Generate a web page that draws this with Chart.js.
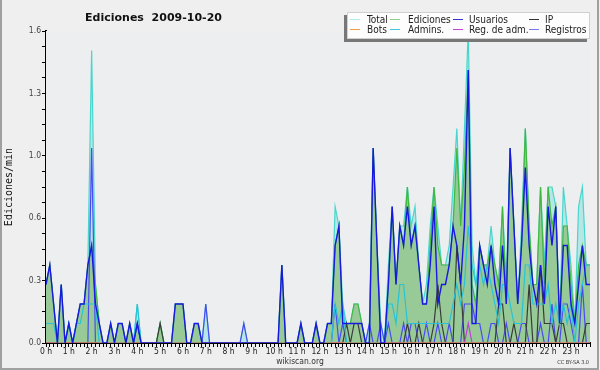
<!DOCTYPE html>
<html>
<head>
<meta charset="utf-8">
<title>Ediciones 2009-10-20</title>
<script src="https://cdn.jsdelivr.net/npm/chart.js@4.4.1/dist/chart.umd.min.js"></script>
<style>
    html, body { margin: 0; padding: 0; background: #efeff0; }
    #wrap { width: 600px; height: 370px; }
</style>
</head>
<body>
<div id="wrap"><canvas id="chart" width="600" height="370"></canvas></div>
<script>
// 10-minute slots over the day (0 = 00:00, 143 = 23:50)
const slots = Array.from({ length: 144 }, (_, i) => i);
const hourLabels = ['0 h', '1 h', '2 h', '3 h', '4 h', '5 h', '6 h', '7 h', '8 h', '9 h', '10 h', '11 h',
    '12 h', '13 h', '14 h', '15 h', '16 h', '17 h', '18 h', '19 h', '20 h', '21 h', '22 h', '23 h'];
const yTickLabels = ['0.0', '0.3', '0.6', '1.0', '1.3', '1.6'];

// edits per minute, one value per slot (12 values = 2 hours per row)
const total = [
    .3, .4, .2, 0, .3, 0, .1, 0, .1, .2, .2, .4,
    1.5, .3, .1, 0, 0, .1, 0, .1, .1, 0, .1, 0,
    .2, 0, 0, 0, 0, 0, .1, 0, 0, 0, .2, .2,
    .2, 0, 0, .1, .1, 0, .2, 0, 0, 0, 0, 0,
    0, 0, 0, 0, .1, 0, 0, 0, 0, 0, 0, 0,
    0, 0, .4, 0, 0, 0, 0, .1, 0, 0, 0, .1,
    0, 0, .1, .1, .7, .6, .2, .1, .1, .2, .2, .1,
    0, .1, 1.0, .5, .1, 0, .4, .7, .3, .6, .6, .8,
    .6, .7, .4, .2, .3, .6, .8, .6, .4, .4, .5, .8,
    1.1, .6, 1.1, 1.6, .5, .3, .5, .4, .4, .6, .4, .3,
    .7, .3, 1.0, .6, .2, .6, 1.1, .6, .3, .3, .8, .4,
    .8, .8, .7, .1, .8, .6, .4, .1, .7, .8, .4, .4
];
const ediciones = [
    .3, .4, .2, 0, .3, 0, .1, 0, .1, .2, .2, .4,
    .5, .3, .1, 0, 0, .1, 0, .1, .1, 0, .1, 0,
    .1, 0, 0, 0, 0, 0, .1, 0, 0, 0, .2, .2,
    .2, 0, 0, .1, .1, 0, 0, 0, 0, 0, 0, 0,
    0, 0, 0, 0, 0, 0, 0, 0, 0, 0, 0, 0,
    0, 0, .4, 0, 0, 0, 0, .1, 0, 0, 0, .1,
    0, 0, .1, .1, .5, .6, .1, .1, .1, .2, .2, .1,
    0, 0, 1.0, .5, 0, 0, .3, .7, .3, .6, .5, .8,
    .5, .6, .4, .2, .2, .5, .8, .5, .4, .4, .4, .6,
    1.0, .6, .9, 1.4, .3, .2, .5, .4, .4, .5, .4, .3,
    .7, .2, 1.0, .6, .2, .5, 1.1, .6, .3, .3, .8, .3,
    .8, .6, .7, .1, .6, .6, .3, .1, .4, .5, .4, .4
];
const usuarios = [
    .3, .4, .2, 0, .3, 0, .1, 0, .1, .2, .2, .4,
    .5, .2, .1, 0, 0, .1, 0, .1, .1, 0, .1, 0,
    .1, 0, 0, 0, 0, 0, 0, 0, 0, 0, .2, .2,
    .2, 0, 0, .1, .1, 0, 0, 0, 0, 0, 0, 0,
    0, 0, 0, 0, 0, 0, 0, 0, 0, 0, 0, 0,
    0, 0, .4, 0, 0, 0, 0, .1, 0, 0, 0, .1,
    0, 0, .1, .1, .5, .6, .1, .1, .1, .1, .1, .1,
    0, 0, 1.0, .5, 0, 0, .3, .7, .3, .6, .5, .7,
    .5, .6, .4, .2, .2, .4, .7, .2, .3, .3, .4, .6,
    .5, .3, .6, 1.4, .1, .1, .5, .4, .3, .5, .3, .2,
    .5, .2, 1.0, .6, .2, .5, .9, .5, .3, .2, .4, .2,
    .7, .5, .7, .1, .5, .5, .2, .1, .3, .5, .3, .3
];
const ip = [
    0, 0, 0, 0, 0, 0, 0, 0, 0, 0, 0, 0,
    0, 0, 0, 0, 0, 0, 0, 0, 0, 0, 0, 0,
    0, 0, 0, 0, 0, 0, .1, 0, 0, 0, 0, 0,
    0, 0, 0, 0, 0, 0, 0, 0, 0, 0, 0, 0,
    0, 0, 0, 0, 0, 0, 0, 0, 0, 0, 0, 0,
    0, 0, 0, 0, 0, 0, 0, 0, 0, 0, 0, 0,
    0, 0, 0, 0, 0, 0, 0, .1, 0, .1, .1, 0,
    0, 0, 0, 0, 0, 0, 0, 0, 0, 0, 0, .1,
    0, 0, .1, 0, 0, 0, .1, .3, .1, 0, 0, 0,
    .5, .3, 0, 0, 0, 0, 0, 0, 0, 0, 0, .2,
    .2, 0, 0, .1, 0, 0, 0, .3, 0, 0, .4, .1,
    .1, .1, 0, .1, .1, 0, 0, 0, 0, 0, .1, .1
];
const bots = slots.map(() => 0);
const admins = [
    .1, .1, .1, 0, 0, 0, .1, 0, .1, .1, .2, .2,
    .2, .2, 0, 0, 0, 0, 0, 0, 0, 0, 0, 0,
    .2, 0, 0, 0, 0, 0, 0, 0, 0, 0, 0, 0,
    0, 0, 0, 0, 0, 0, 0, 0, 0, 0, 0, 0,
    0, 0, 0, 0, 0, 0, 0, 0, 0, 0, 0, 0,
    0, 0, 0, 0, 0, 0, 0, 0, 0, 0, 0, 0,
    0, 0, 0, 0, .2, .1, .2, 0, 0, 0, 0, 0,
    0, 0, 0, 0, 0, 0, .2, .2, .1, .3, .3, .1,
    .1, .1, .1, .1, .1, .1, .1, .1, .1, .1, .1, .2,
    .3, .2, .3, .6, .4, .3, .4, .3, .4, .3, .2, .1,
    .3, .3, .2, .1, .1, .1, .4, .4, .2, .2, .2, .2,
    .3, .1, .2, .1, .2, .1, .2, 0, .2, .3, .4, .4
];
const regAdm = [
    0, 0, 0, 0, 0, 0, 0, 0, 0, 0, 0, 0,
    0, 0, 0, 0, 0, 0, 0, 0, 0, 0, 0, 0,
    0, 0, 0, 0, 0, 0, 0, 0, 0, 0, 0, 0,
    0, 0, 0, 0, 0, 0, 0, 0, 0, 0, 0, 0,
    0, 0, 0, 0, 0, 0, 0, 0, 0, 0, 0, 0,
    0, 0, 0, 0, 0, 0, 0, 0, 0, 0, 0, 0,
    0, 0, 0, 0, 0, 0, 0, 0, 0, 0, 0, 0,
    0, 0, 0, 0, 0, 0, 0, 0, 0, 0, 0, 0,
    0, 0, 0, 0, 0, 0, 0, 0, 0, 0, 0, 0,
    0, 0, 0, .1, 0, 0, 0, 0, 0, 0, 0, 0,
    0, 0, 0, 0, 0, 0, 0, 0, 0, 0, 0, 0,
    0, 0, 0, 0, 0, 0, 0, 0, 0, 0, 0, 0
];
const registros = [
    0, 0, 0, 0, 0, 0, 0, 0, 0, 0, 0, 0,
    1.0, 0, 0, 0, 0, 0, 0, 0, 0, 0, 0, 0,
    .1, 0, 0, 0, 0, 0, 0, 0, 0, 0, 0, 0,
    0, 0, 0, 0, 0, 0, .2, 0, 0, 0, 0, 0,
    0, 0, 0, 0, .1, 0, 0, 0, 0, 0, 0, 0,
    0, 0, 0, 0, 0, 0, 0, 0, 0, 0, 0, 0,
    0, 0, 0, 0, .2, 0, .1, 0, 0, 0, 0, 0,
    0, .1, 0, 0, .1, 0, .1, 0, 0, 0, .1, 0,
    .1, .1, 0, 0, .1, 0, 0, .1, 0, 0, .1, 0,
    0, 0, .2, .2, .2, .1, .1, 0, 0, .1, .1, 0,
    0, .1, 0, 0, 0, .1, .1, 0, 0, 0, .1, 0,
    0, .2, 0, 0, .2, .2, .1, 0, 0, .3, 0, 0
];

// legend entries, in the order of the original box (2 rows x 4 columns)
const legendNames = ['Total', 'Ediciones', 'Usuarios', 'IP', 'Bots', 'Admins.', 'Reg. de adm.', 'Registros'];
const legendColors = ['#b2eaea', '#8fd08f', '#3434d0', '#333333', '#f0a040', '#40c8d8', '#c844d8', '#7a7aee'];

const SANS = "'DejaVu Sans Condensed', 'DejaVu Sans', sans-serif";

function lineSet(label, data, color, width, order) {
    return {
        label, data, order,
        borderColor: color,
        borderWidth: width,
        pointRadius: 0,
        tension: 0,
        fill: false
    };
}

// plot background, frame, title, legend box and footer
const decorations = {
    id: 'decorations',
    beforeDatasetsDraw(chart) {
        const { ctx, chartArea: a } = chart;
        ctx.save();
        ctx.fillStyle = '#edeef0';
        ctx.fillRect(a.left, a.top, a.right - a.left, a.bottom - a.top);
        ctx.restore();
    },
    afterDraw(chart) {
        const { ctx } = chart;
        ctx.save();

        // outer frame
        ctx.strokeStyle = '#a0a0a0';
        ctx.lineWidth = 2;
        ctx.beginPath();
        ctx.moveTo(1, 0); ctx.lineTo(1, 369);
        ctx.lineTo(598, 369); ctx.lineTo(598, 0);
        ctx.stroke();

        // title
        ctx.fillStyle = '#111';
        ctx.font = "bold 11px 'DejaVu Sans', sans-serif";
        ctx.textAlign = 'center';
        ctx.textBaseline = 'alphabetic';
        ctx.fillText('Ediciones  2009-10-20', 153.5, 21);

        // legend box with shadow
        ctx.fillStyle = '#787878';
        ctx.fillRect(344, 15, 243, 27);
        ctx.fillStyle = '#fdfdfd';
        ctx.fillRect(347, 12, 243, 27);
        ctx.strokeStyle = '#d0d0d0';
        ctx.lineWidth = 1;
        ctx.strokeRect(347.5, 12.5, 242, 26);

        const sampleX = [350, 390, 453, 529];
        const textX = [367, 408, 469, 545];
        const rowY = [19.5, 29.5];
        ctx.font = '10px ' + SANS;
        ctx.textAlign = 'left';
        ctx.textBaseline = 'middle';
        legendNames.forEach((name, i) => {
            const col = i % 4, row = Math.floor(i / 4);
            ctx.strokeStyle = legendColors[i];
            ctx.lineWidth = 1;
            ctx.beginPath();
            ctx.moveTo(sampleX[col], rowY[row]);
            ctx.lineTo(sampleX[col] + 10, rowY[row]);
            ctx.stroke();
            ctx.fillStyle = '#222';
            ctx.fillText(name, textX[col], rowY[row] + 0.5);
        });

        // footer
        ctx.fillStyle = '#333';
        ctx.font = '8.5px ' + SANS;
        ctx.textAlign = 'center';
        ctx.textBaseline = 'alphabetic';
        ctx.fillText('wikiscan.org', 300, 364);
        ctx.font = '5.5px ' + SANS;
        ctx.textAlign = 'right';
        ctx.fillText('CC BY-SA 3.0', 589, 364);

        ctx.restore();
    }
};

function initChart() {
    const ctx = document.getElementById('chart').getContext('2d');

    const totalSet = lineSet('Total', total, '#48d6cc', 1.2, 10);
    totalSet.fill = 'origin';
    totalSet.backgroundColor = 'rgba(168, 228, 226, 0.8)';

    const edSet = lineSet('Ediciones', ediciones, '#3fb83f', 1.2, 9);
    edSet.fill = 'origin';
    edSet.backgroundColor = '#97ca97';

    new Chart(ctx, {
        type: 'line',
        data: {
            labels: slots,
            datasets: [
                totalSet,
                edSet,
                lineSet('Registros', registros, '#4a4af2', 1.2, 7),
                lineSet('IP', ip, '#3a3a3a', 1.2, 6),
                lineSet('Reg. de adm.', regAdm, '#c040d8', 1.2, 5),
                lineSet('Admins.', admins, '#26c4d6', 1.2, 4),
                lineSet('Bots', bots, '#f0a030', 1.2, 3),
                lineSet('Usuarios', usuarios, '#1818e0', 1.4, 1)
            ]
        },
        options: {
            responsive: false,
            animation: false,
            devicePixelRatio: 1,
            events: [],
            layout: { padding: { top: 31, right: 10, left: 0, bottom: 0 } },
            scales: {
                x: {
                    type: 'linear',
                    min: 0,
                    max: 143,
                    z: 1,
                    afterFit: s => { s.height = 27; },
                    afterBuildTicks: s => { s.ticks = slots.map(v => ({ value: v })); },
                    ticks: {
                        autoSkip: false,
                        maxRotation: 0,
                        padding: 0,
                        color: '#222',
                        font: { family: SANS, size: 8.5 },
                        callback: v => (v % 6 === 0 ? hourLabels[v / 6] : '')
                    },
                    grid: { drawOnChartArea: false, tickLength: 4, tickColor: '#000', lineWidth: 1 },
                    border: { display: true, color: '#000', width: 2 }
                },
                y: {
                    min: 0,
                    max: 1.6,
                    afterFit: s => { s.width = 46; },
                    afterBuildTicks: s => {
                        s.ticks = Array.from({ length: 21 }, (_, k) => ({ value: k * 0.08 }));
                    },
                    ticks: {
                        autoSkip: false,
                        padding: 1,
                        color: '#444',
                        font: { family: SANS, size: 8.5 },
                        callback: (v, i) => (i % 4 === 0 ? yTickLabels[i / 4] : '')
                    },
                    grid: {
                        tickLength: 4,
                        tickColor: '#000',
                        color: c => (c.index % 4 === 0 ? '#c6c6c6' : 'rgba(0,0,0,0)')
                    },
                    border: { display: true, color: '#000', width: 2 },
                    title: {
                        display: true,
                        text: 'Ediciones/min',
                        color: '#111',
                        font: { family: "'DejaVu Sans Mono', monospace", size: 10 },
                        padding: { top: 3, bottom: 0 }
                    }
                }
            },
            plugins: {
                legend: { display: false },
                title: { display: false },
                tooltip: { enabled: false }
            }
        },
        plugins: [decorations]
    });
}

document.addEventListener('DOMContentLoaded', initChart);
</script>
</body>
</html>
